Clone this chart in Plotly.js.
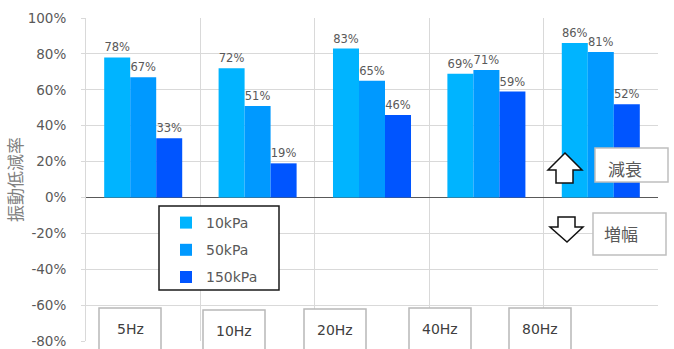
<!DOCTYPE html>
<html><head><meta charset="utf-8">
<script src="https://cdn.plot.ly/plotly-3.0.1.min.js"></script>
<style>html,body{margin:0;padding:0;background:#fff}#chart{width:674px;height:349px}</style>
</head><body><div id="chart"></div>
<script>
// ---- data ----
const categories = ['5Hz', '10Hz', '20Hz', '40Hz', '80Hz'];
const seriesNames = ['10kPa', '50kPa', '150kPa'];
const values10kPa = [78, 72, 83, 69, 86];
const values50kPa = [67, 51, 65, 71, 81];
const values150kPa = [33, 19, 46, 59, 52];
const yTickValues = [-80, -60, -40, -20, 0, 20, 40, 60, 80, 100];
const yTitle = '振動低減率';
const upLabel = '減衰';
const downLabel = '増幅';

// ---- layout helpers (pixel -> paper) ----
const W = 674, H = 349, ML = 86, MR = 16, MT = 18, MB = 8;
const PW = W - ML - MR, PH = H - MT - MB;
const X = px => (px - ML) / PW;
const Y = py => (H - MB - py) / PH;

const colors = ['#00B4FF', '#0099FF', '#0055FF'];
const seriesValues = [values10kPa, values50kPa, values150kPa];
const mainFont = 'DejaVu Sans, Verdana, sans-serif';
const cjkFont = 'Noto Sans CJK JP, sans-serif';

const traces = seriesValues.map((vals, i) => ({
  type: 'bar',
  name: seriesNames[i],
  x: categories,
  y: vals,
  marker: {color: colors[i]},
  text: vals.map(v => v + '%'),
  textposition: 'outside',
  textfont: {family: mainFont, size: 11.5, color: '#595959'},
  cliponaxis: false,
  legendgroup: 'g' + i,
  hoverinfo: 'x+y+name'
}));

const shapes = [];
const annotations = [];

// legend frame
shapes.push({type: 'rect', xref: 'paper', yref: 'paper', layer: 'above',
  x0: X(159), x1: X(279), y0: Y(290), y1: Y(206),
  fillcolor: '#ffffff', line: {color: '#1a1a1a', width: 1.5}});

// category label boxes at the bottom
const boxLeft = [99, 203, 304, 409, 509];
const boxTop = [308, 310, 309, 308, 308];
const boxWidth = 62;
categories.forEach((c, i) => {
  shapes.push({type: 'rect', xref: 'paper', yref: 'paper', layer: 'above',
    x0: X(boxLeft[i]), x1: X(boxLeft[i] + boxWidth), y0: Y(boxTop[i] + 50), y1: Y(boxTop[i]),
    fillcolor: '#ffffff', line: {color: '#b8b8b8', width: 1.5}});
  annotations.push({xref: 'paper', yref: 'paper', x: X(boxLeft[i] + boxWidth / 2), y: Y(boxTop[i] + 21),
    xanchor: 'center', yanchor: 'middle', showarrow: false, text: c,
    font: {family: mainFont, size: 14, color: '#404040'}});
});

// 減衰 / 増幅 boxes
shapes.push({type: 'rect', xref: 'paper', yref: 'paper', layer: 'above',
  x0: X(595), x1: X(668), y0: Y(182), y1: Y(148),
  fillcolor: '#ffffff', line: {color: '#bfbfbf', width: 1.5}});
shapes.push({type: 'rect', xref: 'paper', yref: 'paper', layer: 'above',
  x0: X(593), x1: X(666), y0: Y(255), y1: Y(213),
  fillcolor: '#ffffff', line: {color: '#bfbfbf', width: 1.5}});
annotations.push({xref: 'paper', yref: 'paper', x: X(625), y: Y(168), xanchor: 'center', yanchor: 'middle',
  showarrow: false, text: upLabel, font: {family: cjkFont, size: 17, color: '#595959'}});
annotations.push({xref: 'paper', yref: 'paper', x: X(621), y: Y(234), xanchor: 'center', yanchor: 'middle',
  showarrow: false, text: downLabel, font: {family: cjkFont, size: 17, color: '#595959'}});

// block arrows
function pathFrom(pts) {
  return 'M ' + pts.map(p => X(p[0]).toFixed(5) + ',' + Y(p[1]).toFixed(5)).join(' L ') + ' Z';
}
shapes.push({type: 'path', xref: 'paper', yref: 'paper', layer: 'above',
  path: pathFrom([[565, 153], [582, 170], [573, 170], [573, 183], [556, 183], [556, 170], [548, 170]]),
  fillcolor: '#ffffff', line: {color: '#111111', width: 1.5}});
shapes.push({type: 'path', xref: 'paper', yref: 'paper', layer: 'above',
  path: pathFrom([[558, 217], [575, 217], [575, 227], [583, 227], [567, 242], [550, 227], [558, 227]]),
  fillcolor: '#ffffff', line: {color: '#111111', width: 1.5}});

const layout = {
  width: W, height: H,
  margin: {l: ML, r: MR, t: MT, b: MB, pad: 0},
  paper_bgcolor: '#ffffff', plot_bgcolor: '#ffffff',
  barmode: 'group', bargap: 0.318, bargroupgap: 0,
  showlegend: true,
  legend: {x: X(166), y: Y(207), xanchor: 'left', yanchor: 'top',
    bgcolor: 'rgba(0,0,0,0)', borderwidth: 0, traceorder: 'grouped', tracegroupgap: 6,
    font: {family: mainFont, size: 14, color: '#595959'}},
  xaxis: {type: 'category', tickson: 'boundaries', showgrid: true, gridcolor: '#d9d9d9', gridwidth: 1,
    showticklabels: false, ticks: '', showline: false, zeroline: false, fixedrange: true},
  yaxis: {range: [-80, 100], tickvals: yTickValues, ticktext: yTickValues.map(v => v + '%'),
    showgrid: true, gridcolor: '#d9d9d9', gridwidth: 1,
    zeroline: true, zerolinecolor: '#595959', zerolinewidth: 1.5,
    showline: true, linecolor: '#d9d9d9', linewidth: 1,
    ticks: 'outside', ticklen: 4, tickcolor: '#d9d9d9', ticklabelstandoff: 12,
    tickfont: {family: mainFont, size: 13.5, color: '#595959'},
    title: {text: yTitle, standoff: 0, font: {family: cjkFont, size: 17, color: '#808080'}},
    fixedrange: true},
  shapes: shapes,
  annotations: annotations
};

Plotly.newPlot('chart', traces, layout, {displayModeBar: false, staticPlot: true});
</script></body></html>
